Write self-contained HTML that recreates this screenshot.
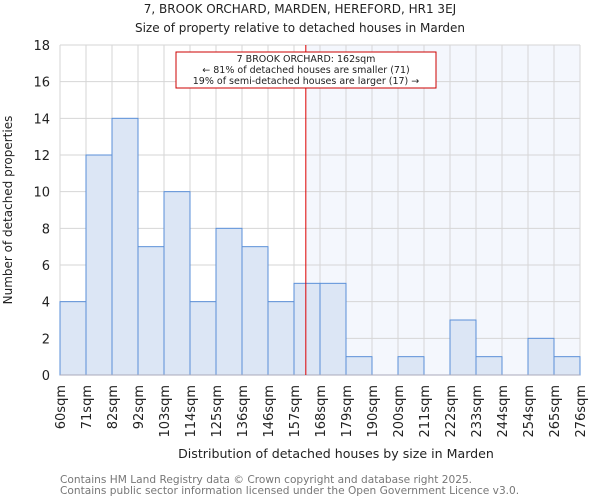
<!DOCTYPE html>
<html><head><meta charset="utf-8"><style>
body{margin:0;background:#fff;font-family:"DejaVu Sans","Liberation Sans",sans-serif}
text{font-family:"DejaVu Sans","Liberation Sans",sans-serif}
</style></head><body>
<svg id="chart" width="600" height="500" xmlns="http://www.w3.org/2000/svg">
<text x="300" y="13" text-anchor="middle" font-size="12" fill="#222">7, BROOK ORCHARD, MARDEN, HEREFORD, HR1 3EJ</text>
<text x="300" y="32" text-anchor="middle" font-size="12" fill="#222">Size of property relative to detached houses in Marden</text>
<g id="grid"></g>
<rect id="shade" fill="#f4f7fd"/>
<g id="bars"></g>
<g id="axes"></g>
<line id="marker" stroke="#d00" stroke-width="1"/>
<g>
<rect x="176" y="52" width="260" height="36" fill="#fff" stroke="#c00" stroke-width="1"/>
<text x="306" y="62" text-anchor="middle" font-size="9.5" fill="#222">7 BROOK ORCHARD: 162sqm</text>
<text x="306" y="73" text-anchor="middle" font-size="9.5" fill="#222">← 81% of detached houses are smaller (71)</text>
<text x="306" y="84" text-anchor="middle" font-size="9.5" fill="#222">19% of semi-detached houses are larger (17) →</text>
</g>
<text x="336" y="458" text-anchor="middle" font-size="12.6" fill="#222">Distribution of detached houses by size in Marden</text>
<text transform="translate(12,210) rotate(-90)" text-anchor="middle" font-size="12" fill="#222">Number of detached properties</text>
<text x="60" y="483" font-size="10.6" fill="#777">Contains HM Land Registry data © Crown copyright and database right 2025.</text>
<text x="60" y="494" font-size="10.6" fill="#777">Contains public sector information licensed under the Open Government Licence v3.0.</text>
</svg>
<script>
const binLabels=["60sqm","71sqm","82sqm","92sqm","103sqm","114sqm","125sqm","136sqm","146sqm","157sqm","168sqm","179sqm","190sqm","200sqm","211sqm","222sqm","233sqm","244sqm","254sqm","265sqm","276sqm"];
const counts=[4,12,14,7,10,4,8,7,4,5,5,1,0,1,0,3,1,0,2,1];
const yTicks=[0,2,4,6,8,10,12,14,16,18];
const propertyBin=9+5/11;
const NS="http://www.w3.org/2000/svg";
const L=60,R=580,T=45,B=375,yMax=18;
const bw=(R-L)/counts.length;
const x=i=>L+i*bw;
const y=v=>B-(v/yMax)*(B-T);
function mk(tag,attrs,parent){const e=document.createElementNS(NS,tag);for(const k in attrs)e.setAttribute(k,attrs[k]);parent.appendChild(e);return e;}
const grid=document.getElementById('grid'),bars=document.getElementById('bars'),axes=document.getElementById('axes');
const mx=x(propertyBin);
const sh=document.getElementById('shade');
sh.setAttribute('x',mx);sh.setAttribute('y',T);sh.setAttribute('width',R-mx);sh.setAttribute('height',B-T);
grid.parentNode.insertBefore(sh,grid);
for(let i=0;i<=counts.length;i++){const g=mk('line',{x1:x(i),x2:x(i),y1:T,y2:B,stroke:'#d6d6d6','stroke-width':1},grid);

}
yTicks.forEach(t=>{const g=mk('line',{x1:L,x2:R,y1:y(t),y2:y(t),stroke:'#d6d6d6','stroke-width':1},grid);


const tx=mk('text',{x:L-10,y:y(t)+5,'text-anchor':'end','font-size':13,fill:'#222'},axes);tx.textContent=t;

});
counts.forEach((c,i)=>{if(c<=0)return;const r=mk('rect',{x:x(i),y:y(c),width:bw,height:B-y(c),fill:'#dce6f5',stroke:'#5a8fd8','stroke-width':1},bars);

});
binLabels.forEach((lb,i)=>{const tx=mk('text',{transform:`translate(${x(i)+5},${B+10}) rotate(-90)`,'text-anchor':'end','font-size':13,fill:'#222'},axes);tx.textContent=lb;

});
const ax=mk('line',{x1:L,x2:R,y1:B,y2:B,stroke:'#aab','stroke-width':1},axes);


const m=document.getElementById('marker');
m.setAttribute('x1',mx);m.setAttribute('x2',mx);m.setAttribute('y1',T);m.setAttribute('y2',B);
</script>
</body></html>
